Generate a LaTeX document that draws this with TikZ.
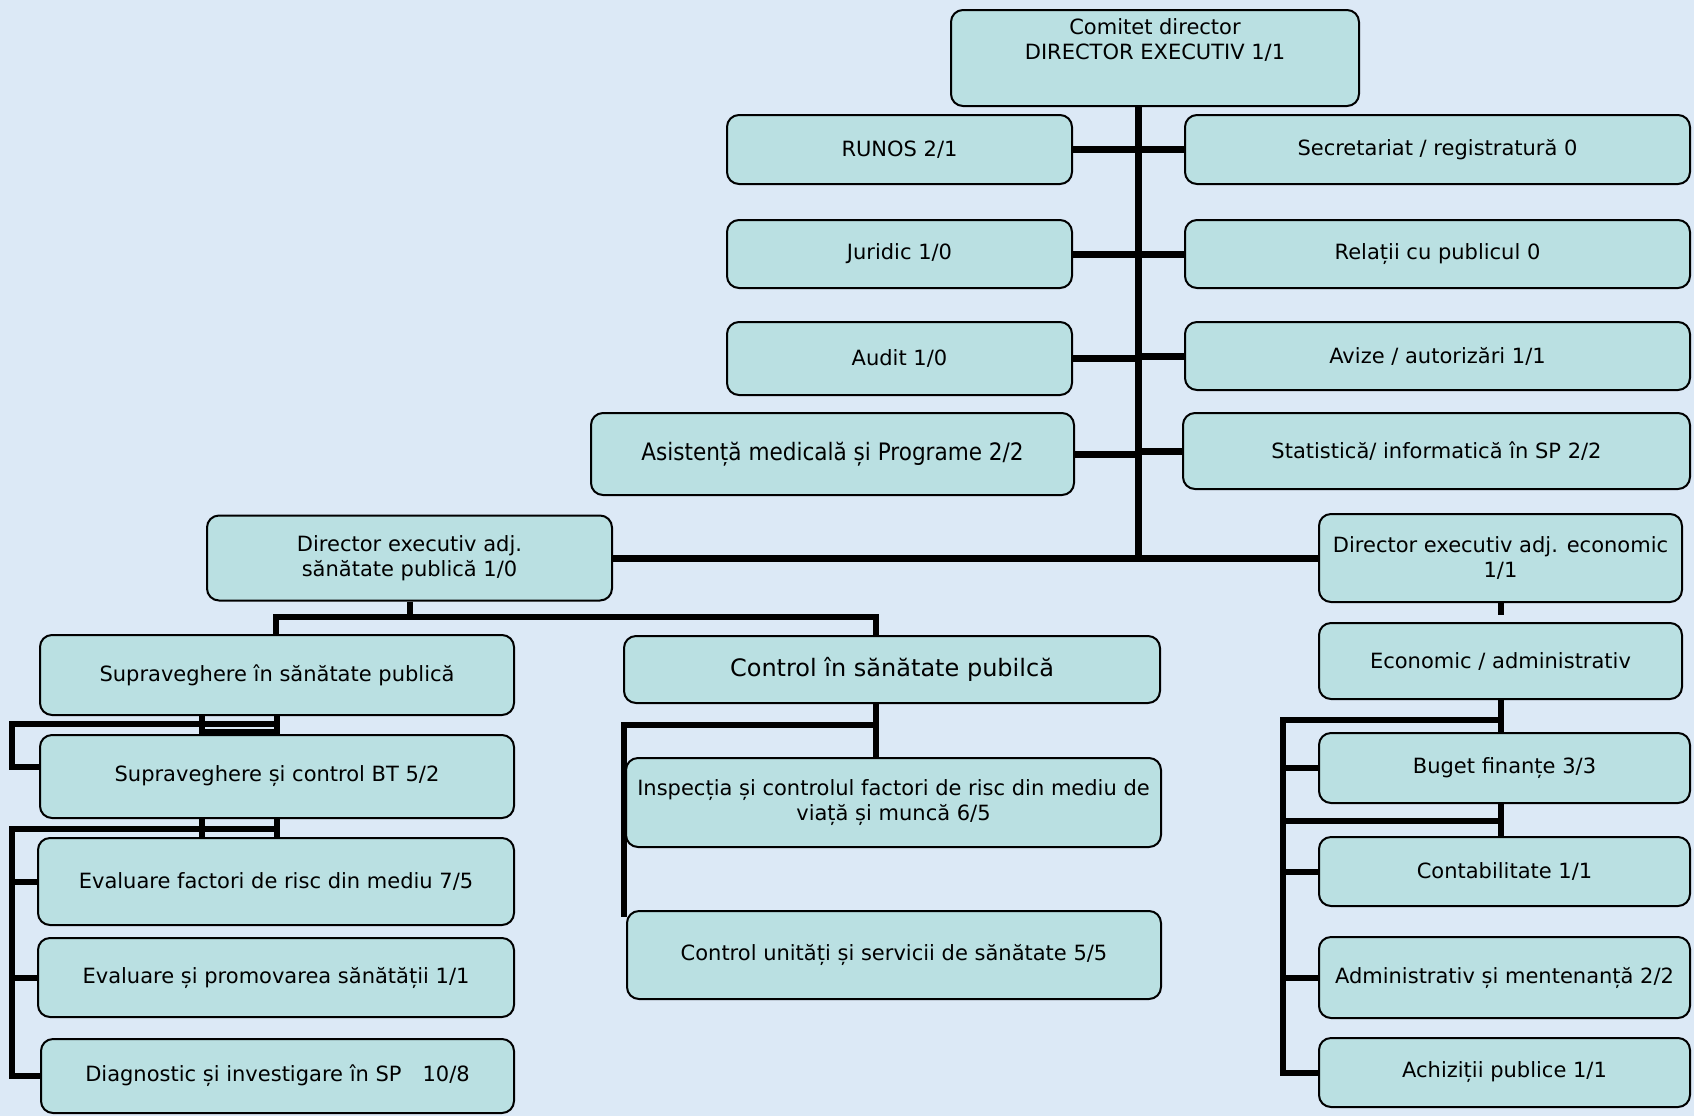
\documentclass[tikz,border=0pt]{standalone}
\usepackage{fontspec}
\setmainfont{DejaVu Sans}
\newfontfamily\condfont{DejaVu Sans Condensed}
\usepackage{tikz}
\usetikzlibrary{positioning}
\usetikzlibrary{calc}
\definecolor{boxfill}{RGB}{186,224,226}
\definecolor{pagebg}{RGB}{220,233,246}
\tikzstyle{dept}=[rectangle,rounded corners=6pt,draw=black,line width=1pt,fill=boxfill,align=center,inner sep=2pt,font=\fontsize{10.5}{12.6}\selectfont]
\tikzstyle{trunk}=[draw,line width=3.5pt]
\tikzstyle{branch}=[draw,line width=3pt]
\tikzset{boxsize/.style 2 args={minimum width=#1*0.5pt,minimum height=#2*0.5pt}}

\begin{document}
\begin{tikzpicture}[x=0.5pt,y=-0.5pt]

    \fill[pagebg] (0,0) rectangle (1694,1116);
    \useasboundingbox (0,0) rectangle (1694,1116);

    % top level
    \node[dept,boxsize={408}{96}] (comitet) at (1155,58) {Comitet director\\DIRECTOR EXECUTIV 1/1\\[6pt]\mbox{}};
    \node[dept,boxsize={345}{69}] (runos) at (899.5,149.5) {RUNOS 2/1};
    \node[dept,boxsize={505}{69}] (secr) at (1437.5,149.5) {Secretariat / registratură 0};
    \node[dept,boxsize={345}{68}] (juridic) at (899.5,254) {Juridic 1/0};
    \node[dept,boxsize={505}{68}] (relatii) at (1437.5,254) {Relații cu publicul 0};
    \node[dept,boxsize={345}{73}] (audit) at (899.5,358.5) {Audit 1/0};
    \node[dept,boxsize={505}{68}] (avize) at (1437.5,356) {Avize / autorizări 1/1};
    \node[dept,boxsize={483}{82},font=\condfont\fontsize{12}{14.4}\selectfont] (asist) at (832.5,454) {Asistență medicală și Programe 2/2};
    \node[dept,boxsize={507}{76}] (stat) at (1436.5,451) {Statistică/ informatică în SP 2/2};
    \node[dept,boxsize={405}{85}] (dsp) at (409.5,558) {Director executiv adj.\\sănătate publică 1/0};
    \node[dept,boxsize={363}{88}] (dec) at (1500.5,558) {Director executiv adj. economic\\1/1};

    % public health
    \node[dept,boxsize={474}{80}] (supr) at (277,675) {Supraveghere în sănătate publică};
    \node[dept,boxsize={536}{67},font=\fontsize{12}{14.4}\selectfont] (ctrl) at (892,669.5) {Control în sănătate pubilcă};
    \node[dept,boxsize={474}{83}] (bt) at (277,776.5) {Supraveghere și control BT 5/2};
    \node[dept,boxsize={476}{87}] (evfact) at (276,881.5) {Evaluare factori de risc din mediu 7/5};
    \node[dept,boxsize={476}{79}] (evprom) at (276,977.5) {Evaluare și promovarea sănătății 1/1};
    \node[dept,boxsize={473}{74}] (diag) at (277.5,1076) {Diagnostic și investigare în SP\quad 10/8};
    \node[dept,boxsize={535}{89}] (insp) at (893.5,802.5) {Inspecția și controlul factori de risc din mediu de\\viață și muncă 6/5};
    \node[dept,boxsize={534}{88}] (ctrlunit) at (894,955) {Control unități și servicii de sănătate 5/5};

    % economic
    \node[dept,boxsize={363}{76}] (econ) at (1500.5,661) {Economic / administrativ};
    \node[dept,boxsize={371}{70}] (buget) at (1504.5,768) {Buget finanțe 3/3};
    \node[dept,boxsize={371}{69}] (contab) at (1504.5,871.5) {Contabilitate 1/1};
    \node[dept,boxsize={371}{81}] (admin) at (1504.5,977.5) {Administrativ și mentenanță 2/2};
    \node[dept,boxsize={371}{69}] (achiz) at (1504.5,1072.5) {Achiziții publice 1/1};

    % trunk and side offices
    \coordinate (tk) at (1138,558);
    \draw[trunk] (comitet.south -| tk) -- (tk) -- (dec.west);
    \draw[trunk] (dsp.east) -- (tk);
    \foreach \l/\r in {runos/secr, juridic/relatii, audit/avize, asist/stat}
    {
        \draw[trunk] (\l.east) -- (\l.east -| tk);
        \draw[trunk] (\r.west) -- (\r.west -| tk);
    }

    % public health branch
    \coordinate (lb) at (276,617);
    \coordinate (rb) at (876,617);
    \draw[branch] (dsp.south) -- (dsp.south |- rb);
    \draw[branch] (supr.north -| lb) -- (lb) -- (rb) -- (rb |- ctrl.north);

    \coordinate (ml) at (12,724);
    \coordinate (mi) at (202,732);
    \draw[branch] ([yshift=5pt]bt.west) -| (ml) -- (ml -| supr.south);
    \draw[branch] (supr.south) -- (bt.north);
    \draw[branch] (supr.south -| mi) -- (bt.north -| mi);
    \draw[branch] (mi) -- (mi -| supr.south);

    \coordinate (ll) at (12,829);
    \draw[branch] (diag.west) -| (ll) -- (ll -| bt.south);
    \draw[branch] (bt.south) -- (evfact.north -| bt.south);
    \draw[branch] (bt.south -| mi) -- (evfact.north -| mi);
    \foreach \n in {evfact, evprom}
        \draw[branch] (\n.west) -- (\n.west -| ll);

    \coordinate (cb) at (624,725);
    \coordinate (ce) at (624,917);
    \draw[branch] (ctrl.south -| rb) -- (insp.north -| rb);
    \draw[branch] (cb -| rb) -- (cb) -- (ce);

    % economic branch
    \draw[branch] (dec.south) -- ++(0,12);
    \coordinate (rr) at (1283,720);
    \coordinate (rm) at (1283,821);
    \draw[branch] (econ.south) -- (buget.north -| econ.south);
    \draw[branch] (rr -| econ.south) -- (rr) |- (achiz.west);
    \draw[branch] (buget.south -| econ.south) -- (contab.north -| econ.south);
    \draw[branch] (rm -| econ.south) -- (rm);
    \foreach \n in {buget, contab, admin}
        \draw[branch] (\n.west) -- (\n.west -| rr);

\end{tikzpicture}
\end{document}
